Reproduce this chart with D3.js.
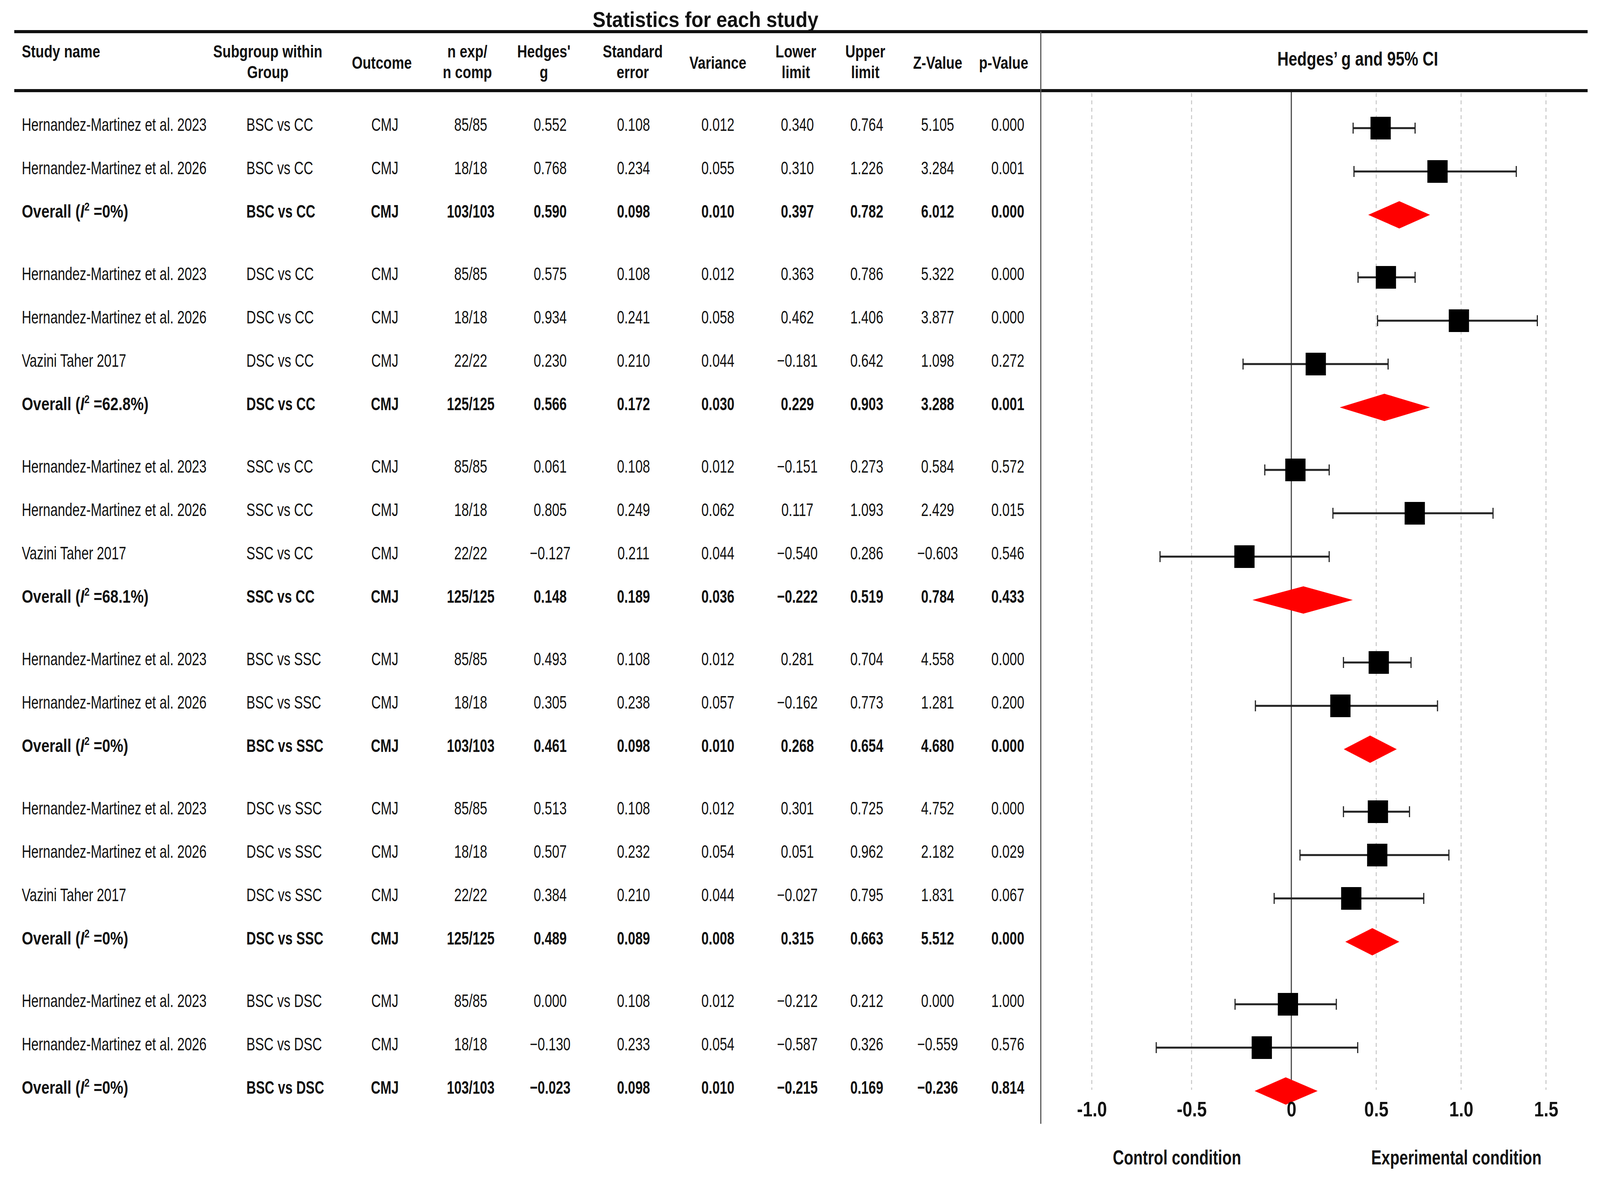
<!DOCTYPE html>
<html>
<head>
<meta charset="utf-8">
<script src="https://cdn.jsdelivr.net/npm/d3@7"></script>
<style>
  html, body { margin: 0; padding: 0; background: #fff; width: 100%; height: 100%; overflow: hidden; }
  svg { display: block; width: 100vw; height: 100vh; }
  text { font-family: "Liberation Sans", Arial, sans-serif; fill: #111; white-space: pre; }
</style>
</head>
<body>
<svg id="chart"></svg>
<script>
// ---- table values, as printed ----
const studyNames = [
  'Hernandez-Martinez et al. 2023', 'Hernandez-Martinez et al. 2026', 'Overall',
  'Hernandez-Martinez et al. 2023', 'Hernandez-Martinez et al. 2026', 'Vazini Taher 2017', 'Overall',
  'Hernandez-Martinez et al. 2023', 'Hernandez-Martinez et al. 2026', 'Vazini Taher 2017', 'Overall',
  'Hernandez-Martinez et al. 2023', 'Hernandez-Martinez et al. 2026', 'Overall',
  'Hernandez-Martinez et al. 2023', 'Hernandez-Martinez et al. 2026', 'Vazini Taher 2017', 'Overall',
  'Hernandez-Martinez et al. 2023', 'Hernandez-Martinez et al. 2026', 'Overall'
];
const subgroups = [
  'BSC vs CC', 'BSC vs CC', 'BSC vs CC',
  'DSC vs CC', 'DSC vs CC', 'DSC vs CC', 'DSC vs CC',
  'SSC vs CC', 'SSC vs CC', 'SSC vs CC', 'SSC vs CC',
  'BSC vs SSC', 'BSC vs SSC', 'BSC vs SSC',
  'DSC vs SSC', 'DSC vs SSC', 'DSC vs SSC', 'DSC vs SSC',
  'BSC vs DSC', 'BSC vs DSC', 'BSC vs DSC'
];
const groupOf = [0,0,0, 1,1,1,1, 2,2,2,2, 3,3,3, 4,4,4,4, 5,5,5];
const iSquared = ['0', '62.8', '68.1', '0', '0', '0'];   // one per subgroup
const outcome = 'CMJ';
const nPairs = ['85/85','18/18','103/103', '85/85','18/18','22/22','125/125',
  '85/85','18/18','22/22','125/125', '85/85','18/18','103/103',
  '85/85','18/18','22/22','125/125', '85/85','18/18','103/103'];
const hedgesG = [0.552,0.768,0.590, 0.575,0.934,0.230,0.566, 0.061,0.805,-0.127,0.148,
  0.493,0.305,0.461, 0.513,0.507,0.384,0.489, 0.000,-0.130,-0.023];
const stdErr = [0.108,0.234,0.098, 0.108,0.241,0.210,0.172, 0.108,0.249,0.211,0.189,
  0.108,0.238,0.098, 0.108,0.232,0.210,0.089, 0.108,0.233,0.098];
const variance = [0.012,0.055,0.010, 0.012,0.058,0.044,0.030, 0.012,0.062,0.044,0.036,
  0.012,0.057,0.010, 0.012,0.054,0.044,0.008, 0.012,0.054,0.010];
const lowerLimit = [0.340,0.310,0.397, 0.363,0.462,-0.181,0.229, -0.151,0.117,-0.540,-0.222,
  0.281,-0.162,0.268, 0.301,0.051,-0.027,0.315, -0.212,-0.587,-0.215];
const upperLimit = [0.764,1.226,0.782, 0.786,1.406,0.642,0.903, 0.273,1.093,0.286,0.519,
  0.704,0.773,0.654, 0.725,0.962,0.795,0.663, 0.212,0.326,0.169];
const zValue = [5.105,3.284,6.012, 5.322,3.877,1.098,3.288, 0.584,2.429,-0.603,0.784,
  4.558,1.281,4.680, 4.752,2.182,1.831,5.512, 0.000,-0.559,-0.236];
const pValue = [0.000,0.001,0.000, 0.000,0.000,0.272,0.001, 0.572,0.015,0.546,0.433,
  0.000,0.200,0.000, 0.000,0.029,0.067,0.000, 1.000,0.576,0.814];

// ---- plotted marks (they do not sit exactly on the printed numbers) ----
const markG  = [0.526,0.861,0.636, 0.557,0.987,0.144,0.548, 0.024,0.727,-0.235,0.071,
  0.515,0.289,0.464, 0.510,0.506,0.353,0.477, -0.017,-0.148,-0.028];
const markLo = [0.364,0.369,0.453, 0.393,0.508,-0.242,0.285, -0.133,0.245,-0.658,-0.195,
  0.307,-0.180,0.309, 0.307,0.051,-0.086,0.318, -0.282,-0.677,-0.184];
const markHi = [0.729,1.325,0.817, 0.729,1.449,0.570,0.817, 0.223,1.188,0.223,0.362,
  0.705,0.861,0.621, 0.696,0.928,0.780,0.636, 0.265,0.391,0.155];

const tickValues = [-1, -0.5, 0, 0.5, 1, 1.5];
const tickLabels = ['-1.0', '-0.5', '0', '0.5', '1.0', '1.5'];
const headerLines = [
  ['Study name'], ['Subgroup within', 'Group'], ['Outcome'], ['n exp/', 'n comp'],
  ["Hedges'", 'g'], ['Standard', 'error'], ['Variance'], ['Lower', 'limit'],
  ['Upper', 'limit'], ['Z-Value'], ['p-Value']
];

// ---- layout ----
const W = 4266, H = 3026;
// stretch to the window so the layout keeps the reference proportions
const svg = d3.select('#chart').attr('viewBox', `0 0 ${W} ${H}`).attr('preserveAspectRatio', 'none');
svg.append('rect').attr('width', W).attr('height', H).attr('fill', '#fff');

const isOverall = i => studyNames[i] === 'Overall';
const rowY = i => 318 + 111 * i + 49 * groupOf[i];
const fmt = d3.format('.3f');

function label(parent, x, y, str, o) {
  const t = parent.append('text')
    .attr('transform', `translate(${x},${y}) scale(${o.sx},1)`)
    .attr('text-anchor', o.anchor || 'start')
    .style('font-size', o.size + 'px')
    .style('font-weight', o.bold ? 'bold' : 'normal');
  if (str !== null) t.text(str);
  return t;
}

// rules
const rules = svg.append('g');
[81, 232].forEach(y => rules.append('line')
  .attr('x1', 38).attr('x2', 4233).attr('y1', y).attr('y2', y)
  .attr('stroke', '#111').attr('stroke-width', 8));
rules.append('line').attr('x1', 2775).attr('x2', 2775).attr('y1', 81).attr('y2', 2877)
  .attr('stroke', '#555').attr('stroke-width', 3);

// titles
label(svg, 1881, 69, 'Statistics for each study', {size: 56, sx: 0.93, bold: true, anchor: 'middle'});
label(svg, 3620, 168, 'Hedges\u2019 g and 95% CI', {size: 50, sx: 0.83, bold: true, anchor: 'middle'});

// column headers
const headerX = [58, 714, 1018, 1246, 1450, 1687, 1914, 2122, 2307, 2500, 2676];
const head = svg.append('g');
headerLines.forEach((lines, k) => {
  const anchor = k === 0 ? 'start' : 'middle';
  if (lines.length === 2) {
    lines.forEach((s, j) => label(head, headerX[k], 147 + 53 * j, s, {size: 45, sx: 0.82, bold: true, anchor}));
  } else {
    label(head, headerX[k], k === 0 ? 147 : 176, lines[0], {size: 45, sx: 0.82, bold: true, anchor});
  }
});

// table body
const colX = {sub: 657, out: 1026, n: 1255, g: 1467, se: 1689, v: 1914, lo: 2126, hi: 2311, z: 2500, p: 2687};
const body = svg.append('g');
studyNames.forEach((name, i) => {
  const yb = rowY(i) + 17;
  const bold = isOverall(i);
  const o = {size: 46, sx: 0.765, bold};
  if (bold) {
    const t = label(body, 58, yb, null, {size: 47, sx: 0.83, bold});
    t.append('tspan').text('Overall (');
    t.append('tspan').style('font-style', 'italic').text('I');
    t.append('tspan').attr('dy', -18).style('font-size', '30px').text('2');
    t.append('tspan').attr('dy', 18).text(` =${iSquared[groupOf[i]]}%)`);
  } else {
    label(body, 58, yb, name, o);
  }
  label(body, colX.sub, yb, subgroups[i], o);
  const mid = Object.assign({}, o, {anchor: 'middle'});
  label(body, colX.out, yb, outcome, mid);
  label(body, colX.n, yb, nPairs[i], mid);
  label(body, colX.g, yb, fmt(hedgesG[i]), mid);
  label(body, colX.se, yb, fmt(stdErr[i]), mid);
  label(body, colX.v, yb, fmt(variance[i]), mid);
  label(body, colX.lo, yb, fmt(lowerLimit[i]), mid);
  label(body, colX.hi, yb, fmt(upperLimit[i]), mid);
  label(body, colX.z, yb, fmt(zValue[i]), mid);
  label(body, colX.p, yb, fmt(pValue[i]), mid);
});

// forest plot: the printed axis is not evenly spaced, zero sits right of centre
const x = d3.scaleLinear().domain([-1, 0, 1.5]).range([2911, 3443, 4122]);
const plot = svg.append('g');
const markOff = 10;

plot.selectAll('.grid')
  .data(tickValues.filter(d => d !== 0))
  .enter().append('line')
  .attr('class', 'grid')
  .attr('x1', d => x(d)).attr('x2', d => x(d))
  .attr('y1', 238).attr('y2', 2790)
  .attr('stroke', '#c4c4c4').attr('stroke-width', 2.5).attr('stroke-dasharray', '10,9');

plot.append('line')
  .attr('x1', x(0)).attr('x2', x(0))
  .attr('y1', 236).attr('y2', rowY(studyNames.length - 1) + markOff)
  .attr('stroke', '#444').attr('stroke-width', 3);

const rows = d3.range(studyNames.length);
const studies = rows.filter(i => !isOverall(i));
const overall = rows.filter(i => isOverall(i));

const ci = plot.selectAll('.ci').data(studies).enter().append('g').attr('class', 'ci');
ci.append('line')
  .attr('x1', i => x(markLo[i])).attr('x2', i => x(markHi[i]))
  .attr('y1', i => rowY(i) + markOff).attr('y2', i => rowY(i) + markOff)
  .attr('stroke', '#222').attr('stroke-width', 5);
['lo', 'hi'].forEach(end => ci.append('line')
  .attr('x1', i => x(end === 'lo' ? markLo[i] : markHi[i]))
  .attr('x2', i => x(end === 'lo' ? markLo[i] : markHi[i]))
  .attr('y1', i => rowY(i) + markOff - 14).attr('y2', i => rowY(i) + markOff + 14)
  .attr('stroke', '#222').attr('stroke-width', 3));
ci.append('rect')
  .attr('x', i => x(markG[i]) - 27).attr('y', i => rowY(i) + markOff - 29)
  .attr('width', 54).attr('height', 58)
  .attr('fill', '#000');

plot.selectAll('.diamond').data(overall).enter().append('path')
  .attr('class', 'diamond')
  .attr('d', i => {
    const y = rowY(i) + markOff;
    return `M${x(markLo[i])},${y}L${x(markG[i])},${y - 35}L${x(markHi[i])},${y}L${x(markG[i])},${y + 35}Z`;
  })
  .attr('fill', '#ff0000');

// axis labels
const axis = d3.axisBottom(x).tickValues(tickValues)
  .tickFormat((d, k) => tickLabels[k]).tickSize(0).tickPadding(0);
const axisG = plot.append('g').attr('transform', 'translate(0,2820)').call(axis);
axisG.select('.domain').remove();
axisG.selectAll('text')
  .attr('transform', 'scale(0.86,1)')
  .style('font-size', '54px').style('font-weight', 'bold')
  .style('font-family', '"Liberation Sans", Arial, sans-serif').attr('fill', '#111');

label(plot, x(0) - 305, 2981, 'Control condition', {size: 52, sx: 0.79, bold: true, anchor: 'middle'});
label(plot, x(0) + 440, 2981, 'Experimental condition', {size: 52, sx: 0.79, bold: true, anchor: 'middle'});
</script>
</body>
</html>
